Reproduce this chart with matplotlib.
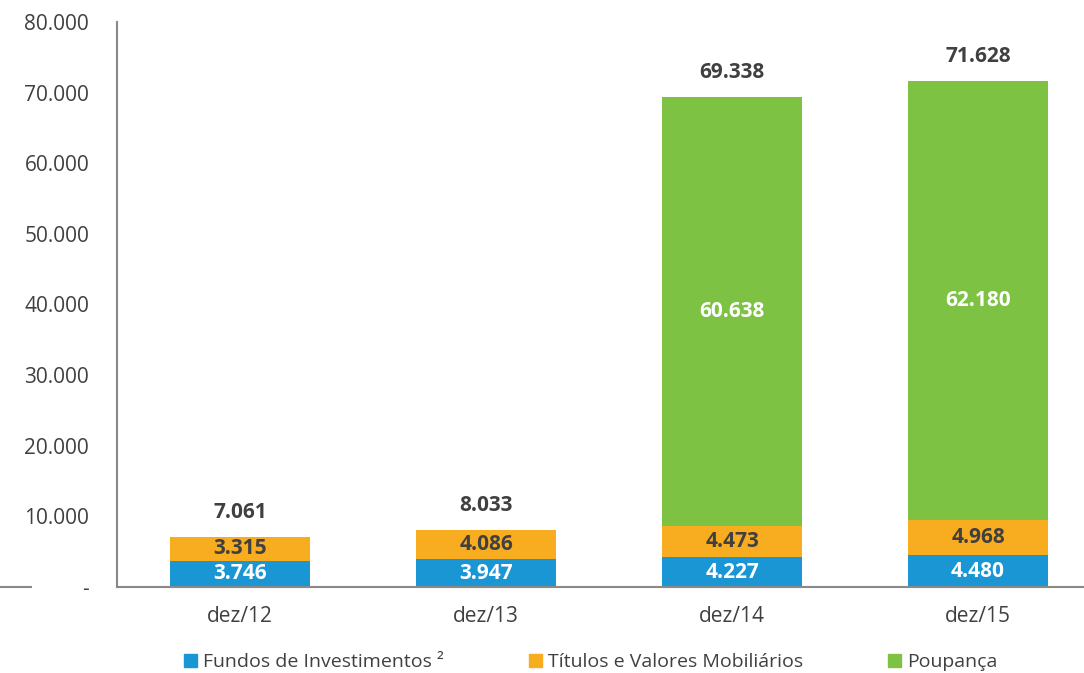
import matplotlib.pyplot as plt
from matplotlib.lines import Line2D
import numpy as np

plt.rcParams['font.family'] = ['Open Sans', 'DejaVu Sans']

periodos = ['dez/12', 'dez/13', 'dez/14', 'dez/15']
fundos = [3746, 3947, 4227, 4480]
titulos = [3315, 4086, 4473, 4968]
poupanca = [0, 0, 60638, 62180]
totais = [7061, 8033, 69338, 71628]

series = ['Fundos de Investimentos ²', 'Títulos e Valores Mobiliários', 'Poupança']
cores = ['#1A96D4', '#F8AC20', '#7DC243']
txt = '#404040'


def fmt(v):
    return f"{v:,.0f}".replace(',', '.')


fig = plt.figure(figsize=(10.84, 6.73), dpi=100)
# eixo começa em x=117px, categorias a cada 246px (parte direita fica fora da figura)
ax = fig.add_axes([117 / 1084, 86 / 673, 984 / 1084, 565 / 673])

x = np.arange(len(periodos))
w = 0.57
base = np.zeros(len(periodos))
for vals, cor, nome in zip([fundos, titulos, poupanca], cores, series):
    vals = np.array(vals, dtype=float)
    ax.bar(x, vals, w, bottom=base, color=cor, label=nome)
    for i, v in enumerate(vals):
        if v > 0:
            c = txt if cor == '#F8AC20' else 'white'
            ax.text(x[i], base[i] + v / 2, fmt(v), ha='center', va='center',
                    fontsize=15, fontweight='bold', color=c)
    base += vals

for i, t in enumerate(totais):
    ax.text(x[i], t + 3500, fmt(t), ha='center', va='center',
            fontsize=15, fontweight='bold', color=txt)

ax.set_xlim(-0.5, 3.5)
ax.set_ylim(0, 80000)
ax.set_yticks(range(0, 80001, 10000))
ax.set_yticklabels(['-'] + [fmt(v) for v in range(10000, 80001, 10000)])
ax.set_xticks(x)
ax.set_xticklabels(periodos)
ax.tick_params(axis='both', length=0, labelsize=15, colors=txt)
ax.tick_params(axis='y', pad=20)
ax.tick_params(axis='x', pad=14)
for s in ['top', 'right']:
    ax.spines[s].set_visible(False)
for s in ['left', 'bottom']:
    ax.spines[s].set_color('#898989')
    ax.spines[s].set_linewidth(1.5)

# pedaço do eixo x à esquerda do rótulo "-"
fig.add_artist(Line2D([0, 31 / 1084], [86 / 673, 86 / 673], color='#898989', lw=1.5))

handles = [plt.Rectangle((0, 0), 1, 1, color=c) for c in cores]
fig.legend(handles, series, loc='center', bbox_to_anchor=(0.545, 0.016),
           ncol=3, frameon=False, fontsize=14, handlelength=0.65, handleheight=0.65,
           handletextpad=0.3, columnspacing=4.4, labelcolor=txt)

fig.savefig('out.png', dpi=100)
